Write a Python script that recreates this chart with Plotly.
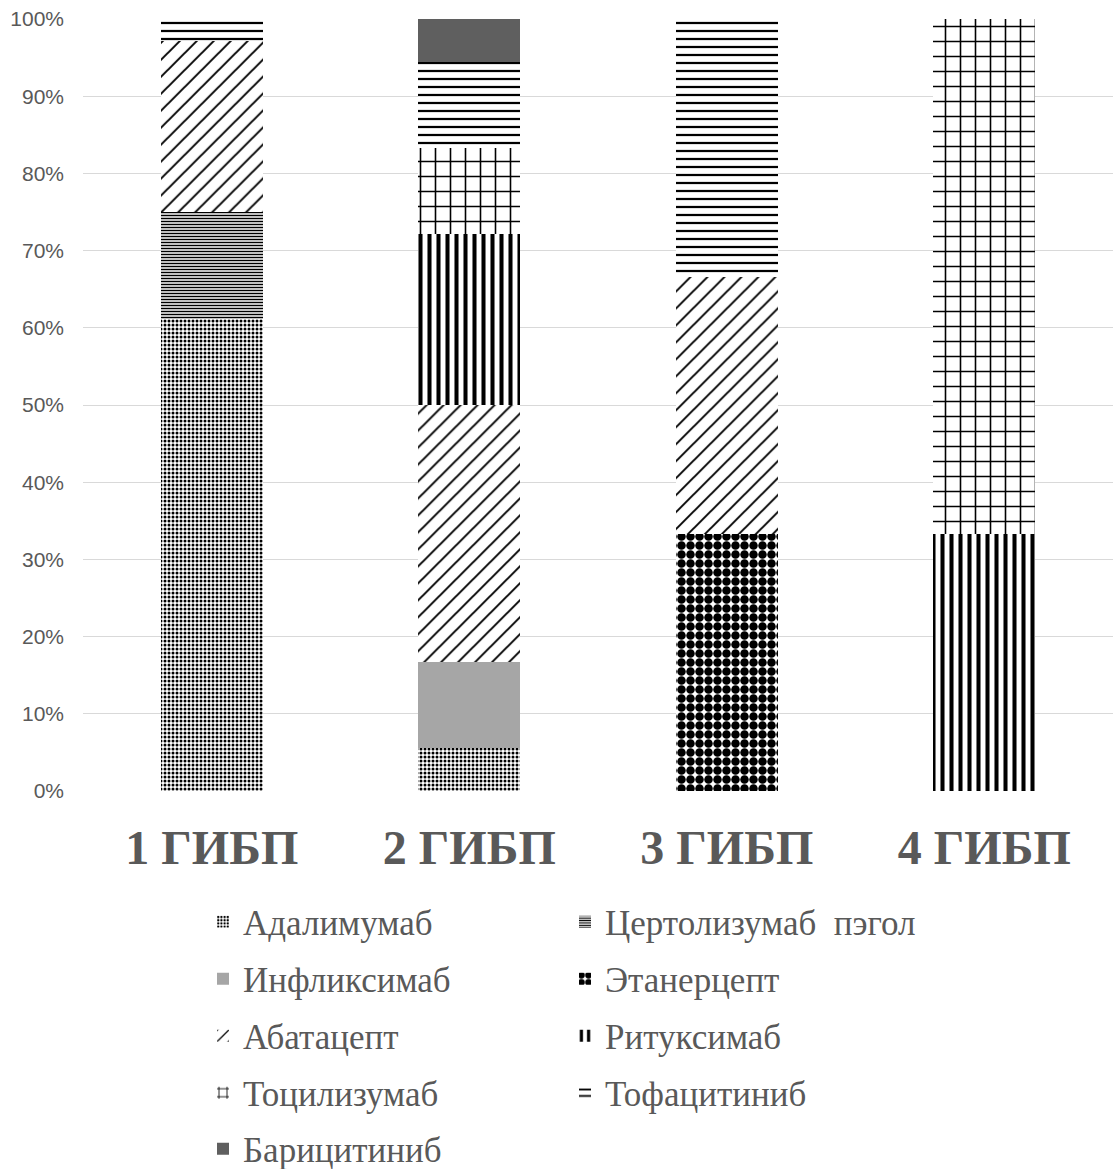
import plotly.graph_objects as go

# Share of patients by biologic, for each line of therapy (percent)
categories = ["1 ГИБП", "2 ГИБП", "3 ГИБП", "4 ГИБП"]

adalimumab = [61.1, 5.6, 0, 0]
certolizumab = [13.9, 0, 0, 0]
infliximab = [0, 11.1, 0, 0]
etanercept = [0, 0, 33.3, 0]
abatacept = [22.2, 33.3, 33.3, 0]
rituximab = [0, 22.2, 0, 33.3]
tocilizumab = [0, 11.1, 0, 66.7]
tofacitinib = [2.8, 11.1, 33.4, 0]
baricitinib = [0, 5.6, 0, 0]

series_names = [
    "Адалимумаб", "Цертолизумаб  пэгол", "Инфликсимаб", "Этанерцепт",
    "Абатацепт", "Ритуксимаб", "Тоцилизумаб", "Тофацитиниб", "Барицитиниб",
]
series_values = [
    adalimumab, certolizumab, infliximab, etanercept,
    abatacept, rituximab, tocilizumab, tofacitinib, baricitinib,
]

# fill style per series: (solid colour, pattern shape, pattern size, solidity)
styles = [
    ("white", ".", 4, 0.45),
    ("white", "-", 3, 0.5),
    ("#a6a6a6", "", 8, 0.3),
    ("white", ".", 9, 0.7),
    ("white", "/", 12, 0.16),
    ("white", "|", 9, 0.45),
    ("white", "+", 15, 0.2),
    ("white", "-", 8, 0.28),
    ("#5f5f5f", "", 8, 0.3),
]

W, H = 1113, 1169
ML, MR, MT, MB = 83, 0, 19, 378
PW, PH = W - ML - MR, H - MT - MB

def px_x(x):
    return (x - ML) / PW

def px_y(y):
    return (H - MB - y) / PH

# legend grid (two columns, five rows)
col_left = [203, 565]
row_mid = [922, 979, 1036, 1093, 1149]

fig = go.Figure()
legend_layouts = {}
for i, (name, vals, st) in enumerate(zip(series_names, series_values, styles)):
    color, shape, size, solidity = st
    lg = "legend" if i == 0 else f"legend{i + 1}"
    marker = dict(color=color, line=dict(width=0))
    if shape:
        marker["pattern"] = dict(shape=shape, size=size, solidity=solidity,
                                 fgcolor="black", bgcolor="white", fillmode="replace")
    fig.add_trace(go.Bar(x=categories, y=vals, name=name, marker=marker,
                         width=0.396, legend=lg))
    r, c = divmod(i, 2)
    legend_layouts[lg] = dict(
        x=px_x(col_left[c]), y=px_y(row_mid[r]), xanchor="left", yanchor="middle",
        orientation="h", itemwidth=30, bgcolor="rgba(0,0,0,0)",
        font=dict(family="Liberation Serif", size=35, color="#595959"),
    )

fig.update_layout(
    width=W, height=H,
    margin=dict(l=ML, r=MR, t=MT, b=MB, autoexpand=False),
    barmode="stack",
    plot_bgcolor="white", paper_bgcolor="white",
    showlegend=True,
    **legend_layouts,
)
fig.update_yaxes(
    range=[0, 100], dtick=10, ticksuffix="%",
    showgrid=True, gridcolor="#d9d9d9", gridwidth=1,
    zeroline=False, showline=False, ticks="",
    ticklabelstandoff=18,
    tickfont=dict(family="Liberation Sans", size=21, color="#595959"),
)
fig.update_xaxes(
    showline=False, ticks="", ticklabelstandoff=24,
    tickfont=dict(family="Liberation Serif", size=48, color="#595959", weight="bold"),
)

fig.write_html("out.html")
